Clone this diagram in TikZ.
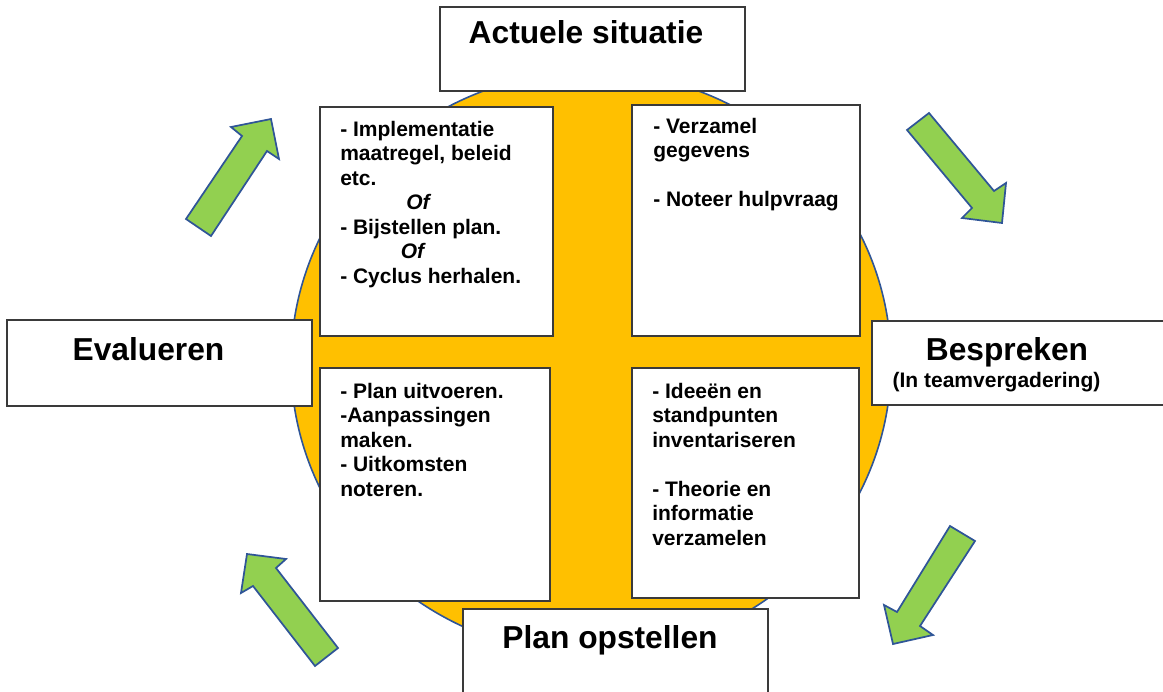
\documentclass[tikz,border=0pt]{standalone}
\usepackage{fontspec}
\setmainfont{Liberation Sans}
\usetikzlibrary{fit}
\definecolor{circfill}{HTML}{FFC000}
\definecolor{circline}{HTML}{2F5597}
\definecolor{arrfill}{HTML}{92D050}
\definecolor{boxline}{HTML}{3A3A3A}
\tikzset{
  circ/.style={fill=circfill, draw=circline, line width=1.2pt},
  bigarrow/.style={fill=arrfill, draw=circline, line width=1.3pt, line join=miter},
  box/.style={draw=boxline, fill=white, line width=1pt, inner sep=0pt, rectangle},
  ln/.style={anchor=base west, inner sep=0pt, font=\fontsize{15.75pt}{18pt}\selectfont\bfseries},
  lnit/.style={anchor=base west, inner sep=0pt, font=\fontsize{15.75pt}{18pt}\selectfont\bfseries\itshape},
  ttl/.style={anchor=base, inner sep=0pt, font=\fontsize{23.8pt}{28pt}\selectfont\bfseries},
  sub/.style={anchor=base, inner sep=0pt, font=\fontsize{15.75pt}{18pt}\selectfont\bfseries}
}
\begin{document}
\begin{tikzpicture}[x=0.75pt,y=-0.75pt]
\useasboundingbox (0,0) rectangle (1163,692);
% circle
\draw[circ] (591,363) ellipse [x radius=225pt, y radius=218.5pt];
% arrows
\draw[bigarrow] (186,219) -- (242,136) -- (231,127) -- (271,119) -- (279,159) -- (267,151) -- (211,236) -- cycle;
\draw[bigarrow] (907,130) -- (929,113) -- (994,191) -- (1006,183) -- (1002,223) -- (962,218) -- (972,208) -- cycle;
\draw[bigarrow] (950,526) -- (975,541) -- (920,626) -- (933,635) -- (893,644) -- (884,605) -- (897,612) -- cycle;
\draw[bigarrow] (338,648) -- (315,666) -- (253,586) -- (241,593) -- (247,554) -- (286,559) -- (276,568) -- cycle;
% boxes
\node[box, fit={(440,7)(745,91)}] (act) {};
\node[box, fit={(7,320)(312,406)}] (eva) {};
\node[box, fit={(872,321)(1175,405)}] (bes) {};
\node[box, fit={(463,609)(768,700)}] (plan) {};
\node[box, fit={(320,107)(553,336)}] (tl) {};
\node[box, fit={(632,105)(860,336)}] (tr) {};
\node[box, fit={(320,368)(550,601)}] (bl) {};
\node[box, fit={(632,368)(859,598)}] (br) {};
% titles
\node[ttl] (actt) at (586,44) {Actuele situatie};
\node[ttl] (evat) at (148.5,360) {Evalueren};
\node[ttl] (best) at (1007,360) {Bespreken};
\node[sub] (bess) at (996.5,387) {(In teamvergadering)};
\node[ttl] (plant) at (610,648) {Plan opstellen};
% top-left text
\node[ln] (tl1) at (340,136) {- Implementatie};
\node[ln] (tl2) at (340,160.5) {maatregel, beleid};
\node[ln] (tl3) at (340,185) {etc.};
\node[lnit] (tl4) at (406,209.5) {Of};
\node[ln] (tl5) at (340,234) {- Bijstellen plan.};
\node[lnit] (tl6) at (400.5,258.5) {Of};
\node[ln] (tl7) at (340,283) {- Cyclus herhalen.};
% top-right text
\node[ln] (tr1) at (653,133) {- Verzamel};
\node[ln] (tr2) at (653,157.5) {gegevens};
\node[ln] (tr3) at (653,206.5) {- Noteer hulpvraag};
% bottom-left text
\node[ln] (bl1) at (340,398) {- Plan uitvoeren.};
\node[ln] (bl2) at (340,422.5) {-Aanpassingen};
\node[ln] (bl3) at (340,447) {maken.};
\node[ln] (bl4) at (340,471.5) {- Uitkomsten};
\node[ln] (bl5) at (340,496) {noteren.};
% bottom-right text
\node[ln] (br1) at (652,398) {- Ideeën en};
\node[ln] (br2) at (652,422.5) {standpunten};
\node[ln] (br3) at (652,447) {inventariseren};
\node[ln] (br4) at (652,496) {- Theorie en};
\node[ln] (br5) at (652,520.5) {informatie};
\node[ln] (br6) at (652,545) {verzamelen};
\end{tikzpicture}
\end{document}
